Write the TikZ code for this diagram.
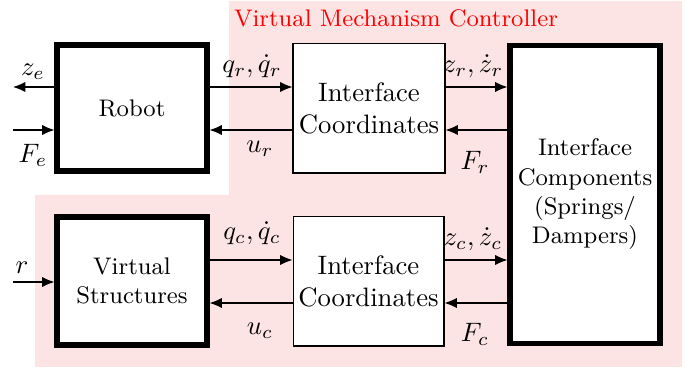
\documentclass[tikz,border=0pt]{standalone}
\usetikzlibrary{arrows.meta}
\definecolor{vmcpink}{RGB}{253,228,228}
\begin{document}
\begin{tikzpicture}[x=0.375pt,y=-0.375pt,
  thickbox/.style={draw,line width=1.9pt,fill=white,align=center,inner sep=0pt,font=\small},
  thinbox/.style={draw,line width=0.4pt,fill=white,align=center,inner sep=0pt},
  arr/.style={line width=0.4pt,-{Latex[length=4.6pt,width=3.8pt]}},
  lbl/.style={inner sep=0pt}]
\useasboundingbox (0,0) rectangle (691,370);
% background region
\fill[vmcpink] (229,1) -- (682,1) -- (682,367) -- (35,367) -- (35,195) -- (229,195) -- cycle;
\node[lbl,text=red,font=\small] (title) at (396,18) {Virtual Mechanism Controller};
% boxes
\node[thickbox,minimum width=56.25pt,minimum height=47.25pt] (robot) at (132,108) {Robot};
\node[thinbox,minimum width=57pt,minimum height=48.4pt] (ic1) at (369,108.5) {Interface\\Coordinates};
\node[thickbox,minimum width=56.25pt,minimum height=112pt] (comp) at (585,194.5) {Interface\\Components\\(Springs/\\Dampers)};
\node[thickbox,minimum width=56.25pt,minimum height=48pt] (vs) at (132,281) {Virtual\\Structures};
\node[thinbox,minimum width=56.6pt,minimum height=48.4pt] (ic2) at (368.5,281.5) {Interface\\Coordinates};
% free ends
\coordinate (ze) at (13,87);
\coordinate (Fe) at (13,130);
\coordinate (rin) at (13,282);
% top row connectors
\draw[arr] (robot.west |- ze) -- (ze);
\draw[arr] (Fe) -- (robot.west |- Fe);
\draw[arr] (robot.east |- ze) -- (ic1.west |- ze);
\draw[arr] (ic1.west |- Fe) -- (robot.east |- Fe);
\draw[arr] (ic1.east |- ze) -- (comp.west |- ze);
\draw[arr] (comp.west |- Fe) -- (ic1.east |- Fe);
% bottom row connectors
\coordinate (qc) at (0,260);
\coordinate (uc) at (0,303);
\draw[arr] (rin) -- (vs.west |- rin);
\draw[arr] (vs.east |- qc) -- (ic2.west |- qc);
\draw[arr] (ic2.west |- uc) -- (vs.east |- uc);
\draw[arr] (ic2.east |- qc) -- (comp.west |- qc);
\draw[arr] (comp.west |- uc) -- (ic2.east |- uc);
% labels
\node[lbl] (lze) at (33,72) {$z_e$};
\node[lbl] (lFe) at (33,155) {$F_e$};
\node[lbl] (lqr) at (252,66) {$q_r,\dot{q}_r$};
\node[lbl] (lur) at (260,149) {$u_r$};
\node[lbl] (lzr) at (473,66) {$z_r,\dot{z}_r$};
\node[lbl] (lFr) at (475,162) {$F_r$};
\node[lbl] (lr) at (22,268) {$r$};
\node[lbl] (lqc) at (252,233) {$q_c,\dot{q}_c$};
\node[lbl] (luc) at (260,331) {$u_c$};
\node[lbl] (lzc) at (473,239) {$z_c,\dot{z}_c$};
\node[lbl] (lFc) at (475,334) {$F_c$};
\end{tikzpicture}
\end{document}
